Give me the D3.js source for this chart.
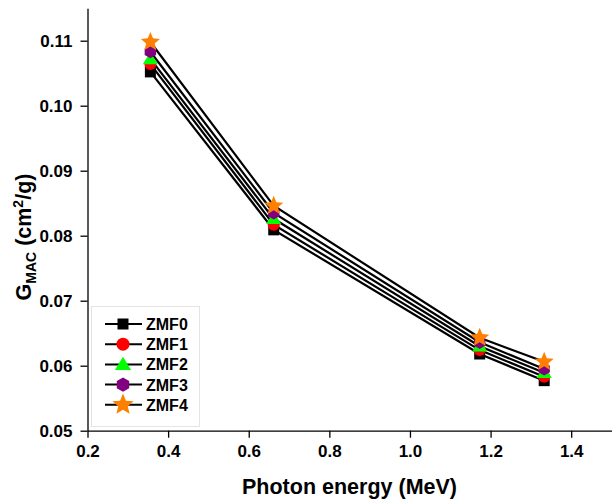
<!DOCTYPE html>
<html><head><meta charset="utf-8">
<script src="https://cdn.jsdelivr.net/npm/d3@7"></script>
<style>body{margin:0;background:#fff}svg{display:block}text{font-family:"Liberation Sans",Arial,sans-serif;font-weight:bold}</style>
</head><body><svg id="c" width="612" height="500"></svg>
<script>
const energies = [0.356, 0.662, 1.173, 1.333];
const seriesNames = ["ZMF0", "ZMF1", "ZMF2", "ZMF3", "ZMF4"];
const zmf0 = [0.1052, 0.0809, 0.0618, 0.0577];
const zmf1 = [0.1064, 0.0817, 0.0624, 0.0583];
const zmf2 = [0.1072, 0.0826, 0.0630, 0.0589];
const zmf3 = [0.1083, 0.0835, 0.0636, 0.0595];
const zmf4 = [0.1098, 0.0846, 0.0643, 0.0606];
const xTicks = [0.2, 0.4, 0.6, 0.8, 1.0, 1.2, 1.4];
const yTicks = [0.05, 0.06, 0.07, 0.08, 0.09, 0.10, 0.11];

const values = [zmf0, zmf1, zmf2, zmf3, zmf4];
const colors = ["#000000", "#ff0000", "#00ff00", "#800080", "#ff8000"];
const shapes = ["square", "circle", "triangle", "hexagon", "star"];

const svg = d3.select("#c");
const x = d3.scaleLinear().domain([0.2, 1.5]).range([87.5, 611.5]);
const y = d3.scaleLinear().domain([0.05, 0.115]).range([430.7, 8.2]);

function markerPath(shape, s) {
  const p = d3.path();
  if (shape === "square") { p.rect(-s/2, -s/2, s, s); }
  else if (shape === "circle") { p.arc(0, 0, s/2, 0, 2*Math.PI); }
  else if (shape === "triangle") {
    const h = s*0.9; p.moveTo(0, -h*0.6); p.lineTo(s*0.58, h*0.45); p.lineTo(-s*0.58, h*0.45); p.closePath();
  } else if (shape === "hexagon") {
    const r = s*0.55;
    for (let i = 0; i < 6; i++) { const a = -Math.PI/2 + i*Math.PI/3; const px = r*Math.cos(a), py = r*Math.sin(a); i ? p.lineTo(px, py) : p.moveTo(px, py); }
    p.closePath();
  } else if (shape === "star") {
    const R = s*0.8, r = R*0.45;
    for (let i = 0; i < 10; i++) { const a = -Math.PI/2 + i*Math.PI/5; const rr = i%2 ? r : R; const px = rr*Math.cos(a), py = rr*Math.sin(a); i ? p.lineTo(px, py) : p.moveTo(px, py); }
    p.closePath();
  }
  return p.toString();
}

// Legend frame (very faint)
svg.append("rect").attr("x", 91.5).attr("y", 306.5).attr("width", 108).attr("height", 120).attr("fill", "none").attr("stroke", "#e4e4e4").attr("stroke-width", 1);

// Axes
const xAxis = d3.axisBottom(x).tickValues(xTicks).tickFormat(d3.format(".1f")).tickSize(7).tickSizeOuter(0);
const xMinor = d3.axisBottom(x).tickValues(d3.range(3, 16, 2).map(v => v/10)).tickFormat("").tickSize(4).tickSizeOuter(0);
const yAxis = d3.axisLeft(y).tickValues(yTicks).tickFormat(d3.format(".2f")).tickSize(7).tickSizeOuter(0);
const yMinor = d3.axisLeft(y).tickValues(d3.range(11, 24, 2).map(v => v/200)).tickFormat("").tickSize(4).tickSizeOuter(0);

const gx = svg.append("g").attr("transform", `translate(0,${y(0.05)})`);
gx.call(xMinor); gx.call(xAxis);
const gy = svg.append("g").attr("transform", `translate(${x(0.2)},0)`);
gy.call(yMinor); gy.call(yAxis);
svg.selectAll(".domain").attr("stroke", "#000").attr("stroke-width", 1.3);
svg.selectAll(".tick line").attr("stroke", "#000").attr("stroke-width", 1.3);
gx.selectAll(".tick text").attr("font-size", 17).attr("font-family", '"Liberation Sans",Arial,sans-serif').attr("font-weight", "bold").attr("fill", "#000").attr("dy", "1.0em").attr("y", 9);
gy.selectAll(".tick text").attr("font-size", 17).attr("font-family", '"Liberation Sans",Arial,sans-serif').attr("font-weight", "bold").attr("fill", "#000").attr("x", -15).attr("dy", "0.36em");

// Lines
const line = d3.line().x((d, i) => x(energies[i])).y(d => y(d));
values.forEach(v => {
  svg.append("path").attr("d", line(v)).attr("fill", "none").attr("stroke", "#000").attr("stroke-width", 2.2);
});
// Markers
const msize = [11, 12, 13, 12, 12.5];
values.forEach((v, si) => {
  svg.append("g").selectAll("path").data(v).join("path")
    .attr("transform", (d, i) => `translate(${x(energies[i])},${y(d)})`)
    .attr("d", markerPath(shapes[si], msize[si]))
    .attr("fill", colors[si]);
});

// Legend
const leg = svg.append("g");
seriesNames.forEach((n, i) => {
  const cy = 324 + i * 20.2;
  leg.append("line").attr("x1", 105).attr("x2", 142).attr("y1", cy).attr("y2", cy).attr("stroke", "#000").attr("stroke-width", 2);
  leg.append("path").attr("transform", `translate(123,${cy})`).attr("d", markerPath(shapes[i], [11, 13, 14, 13, 14][i])).attr("fill", colors[i]);
  leg.append("text").attr("x", 146).attr("y", cy + 6).attr("font-size", 16).text(n);
});

// Axis titles
svg.append("text").attr("x", 349.5).attr("y", 494).attr("text-anchor", "middle").attr("font-size", 21.5).text("Photon energy (MeV)");
const yt = svg.append("text").attr("transform", "translate(31,237) rotate(-90)").attr("text-anchor", "middle").attr("font-size", 21.5);
yt.append("tspan").text("G");
yt.append("tspan").attr("font-size", 14).attr("dy", 5).text("MAC");
yt.append("tspan").attr("dy", -5).text(" (cm");
yt.append("tspan").attr("font-size", 14).attr("dy", -8).text("2");
yt.append("tspan").attr("dy", 8).text("/g)");
</script></body></html>
